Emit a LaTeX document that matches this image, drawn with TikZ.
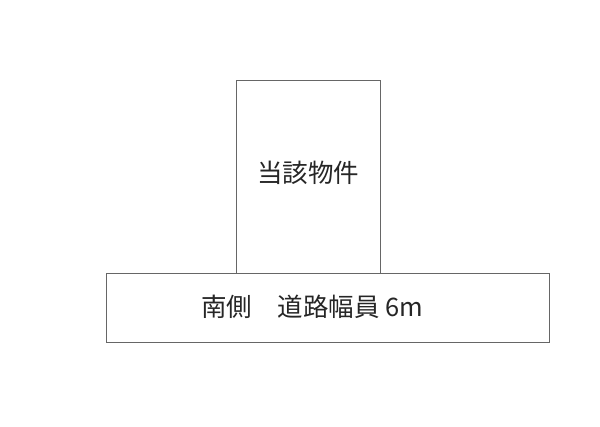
\documentclass[tikz,border=0pt]{standalone}
\usepackage{fontspec}
\newfontfamily\jpfont{Noto Sans CJK JP}
\begin{document}
\begin{tikzpicture}[x=1pt,y=1pt,
  plot/.style={draw=black!60, line width=0.8pt},
  lbl/.style={font=\jpfont\fontsize{25.5}{30}\selectfont, text=black!85, inner sep=0pt}]
\useasboundingbox (0,0) rectangle (600,427);
\path[plot] (236,154) rectangle (380,347);
\path[plot] (106,85) rectangle (549,154);
\node[lbl] (bukken) at (308,254) {当該物件};
\node[lbl] (road) at (312,120) {南側　道路幅員 6m};
\end{tikzpicture}
\end{document}
